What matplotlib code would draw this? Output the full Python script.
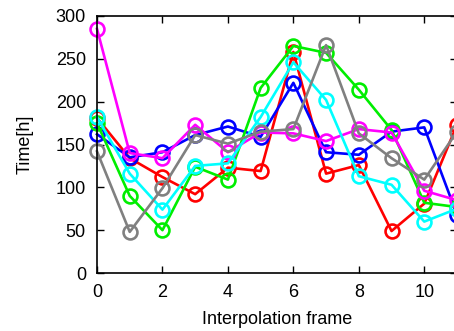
import matplotlib
matplotlib.use("Agg")
import matplotlib.pyplot as plt

frames = list(range(12))
red = [181, 134, 112, 92, 123, 119, 258, 116, 126, 49, 81, 173]
blue = [162, 135, 141, 161, 171, 159, 222, 141, 138, 165, 170, 68]
green = [175, 90, 50, 124, 109, 216, 265, 257, 214, 167, 82, 77]
magenta = [285, 140, 134, 173, 141, 164, 163, 154, 168, 164, 96, 85]
cyan = [182, 116, 74, 125, 128, 182, 246, 202, 113, 103, 60, 75]
gray = [142, 48, 99, 161, 151, 165, 168, 266, 163, 134, 109, 165]

series = [(red, "#ff0000"), (blue, "#0000ff"), (green, "#00ee00"),
          (magenta, "#ff00ff"), (cyan, "#00ffff"), (gray, "#808080")]

plt.rcParams['font.family'] = ['Liberation Sans', 'DejaVu Sans']
fig = plt.figure(figsize=(4.54, 3.31), dpi=100)
ax = fig.add_axes([97/454, 1-273/331, (457-97)/454, (273-16)/331])
for vals, c in series:
    ax.plot(frames, vals, color=c, lw=1.9, marker='o', ms=10,
            mfc='none', mec=c, mew=1.9, clip_on=False)
ax.set_xlim(0, 11)
ax.set_ylim(0, 300)
ax.set_xticks([0, 2, 4, 6, 8, 10])
ax.set_yticks([0, 50, 100, 150, 200, 250, 300])
ax.tick_params(direction='in', top=True, right=True, length=5, labelsize=13, width=1)
ax.tick_params(axis='x', pad=8)
ax.tick_params(axis='y', pad=8)
for s in ax.spines.values():
    s.set_linewidth(1.2)
ax.set_xlabel("Interpolation frame", fontsize=13, labelpad=7)
ax.set_ylabel("Time[h]", fontsize=13, labelpad=16)
fig.savefig("out.png", dpi=100)
